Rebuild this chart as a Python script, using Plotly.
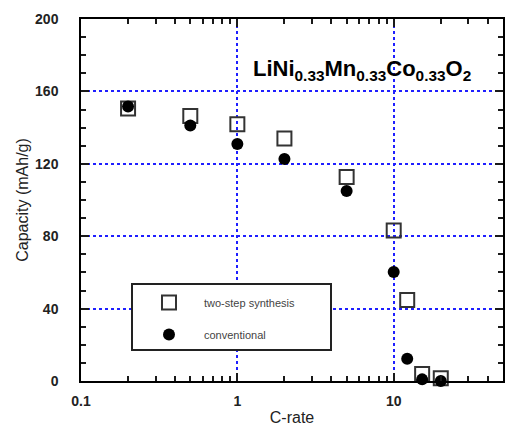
import plotly.graph_objects as go

c_rate = [0.2, 0.5, 1, 2, 5, 10, 12.2, 15.2, 20]
two_step = [150.5, 146.4, 141.8, 134.0, 112.7, 83.2, 44.8, 3.9, 1.5]
conventional = [151.6, 141.2, 130.9, 122.7, 105.0, 60.2, 12.3, 0.9, 0.0]

x_major = [0.1, 1, 10]
x_major_text = ["0.1", "1", "10"]
x_minor = [0.2, 0.3, 0.4, 0.5, 0.6, 0.7, 0.8, 0.9,
           2, 3, 4, 5, 6, 7, 8, 9, 20, 30, 40]
y_major = [0, 40, 80, 120, 160, 200]

W, H = 505, 426
L, R, T, B = 81, 2, 19, 45
PW, PH = W - L - R, H - T - B


def px(x):
    return (x - L) / PW


def py(y):
    return (H - B - y) / PH


fig = go.Figure()
fig.add_trace(go.Scatter(
    x=c_rate, y=two_step, mode="markers", name="two-step synthesis",
    legendgroup="a",
    marker=dict(symbol="square-open", size=14, color="#333333", line=dict(width=2, color="#333333")),
    cliponaxis=False,
))
fig.add_trace(go.Scatter(
    x=c_rate, y=conventional, mode="markers", name="conventional",
    legendgroup="b",
    marker=dict(symbol="circle", size=12, color="black"),
    cliponaxis=False,
))
fig.add_trace(go.Scatter(x=[0.2], y=[None], xaxis="x2", yaxis="y", mode="markers",
                         showlegend=False, hoverinfo="skip"))

tick_font = dict(family="Liberation Sans Narrow, Arial Narrow, Arial, sans-serif", size=14,
                 color="#222222", weight="bold")
title_font = dict(family="Arial, Liberation Sans, sans-serif", size=16, color="#222222")

fig.update_layout(
    width=W, height=H,
    margin=dict(l=L, r=R, t=T, b=B),
    paper_bgcolor="white", plot_bgcolor="white",
    showlegend=True,
    legend=dict(
        x=px(134), y=py(288), xanchor="left", yanchor="top",
        borderwidth=0, bgcolor="rgba(0,0,0,0)",
        font=dict(family="Arial, Liberation Sans, sans-serif", size=11, color="#444444"),
        itemwidth=60, tracegroupgap=13,
    ),
    xaxis=dict(
        type="log", range=[-1, 1.699], automargin=False,
        tickvals=x_major, ticktext=x_major_text,
        ticks="inside", ticklen=8, tickwidth=2, tickcolor="#1a1a1a",
        showline=True, linecolor="black", linewidth=1.5, mirror="ticks",
        zeroline=False, ticklabelstandoff=6,
        tickfont=tick_font,
        title=dict(text="C-rate", font=title_font, standoff=6),
        showgrid=True, gridcolor="#1f1fff", griddash="dot", gridwidth=1.5,
    ),
    xaxis2=dict(
        type="log", range=[-1, 1.699], overlaying="x", side="bottom", automargin=False,
        tickvals=x_minor, ticktext=[""] * len(x_minor),
        ticks="inside", ticklen=5, tickwidth=2, tickcolor="#1a1a1a",
        showline=True, linecolor="black", linewidth=1.5, mirror="ticks",
        showgrid=False, zeroline=False,
    ),
    yaxis=dict(
        range=[0, 200], tickvals=y_major, automargin=False,
        ticks="inside", ticklen=8, tickwidth=2, tickcolor="#1a1a1a",
        minor=dict(ticks="inside", ticklen=5, dtick=10, tickwidth=2, tickcolor="#1a1a1a", showgrid=False),
        showline=True, linecolor="black", linewidth=1.5, mirror="ticks",
        zeroline=False, ticklabelstandoff=18,
        tickfont=tick_font,
        title=dict(text="Capacity (mAh/g)", font=title_font, standoff=2),
        showgrid=True, gridcolor="#1f1fff", griddash="dot", gridwidth=1.5,
    ),
    shapes=[dict(
        type="rect", xref="paper", yref="paper",
        x0=px(132), x1=px(331), y0=py(350), y1=py(284),
        fillcolor="white", line=dict(color="#222222", width=2), layer="above",
    )],
    annotations=[dict(
        text="LiNi<sub>0.33</sub>Mn<sub>0.33</sub>Co<sub>0.33</sub>O<sub>2</sub>",
        xref="paper", yref="paper", x=px(362), y=py(70),
        xanchor="center", yanchor="middle", showarrow=False,
        font=dict(family="Arial, Liberation Sans, sans-serif", size=22, color="black", weight="bold"),
    )],
)

fig.write_html("out.html")
